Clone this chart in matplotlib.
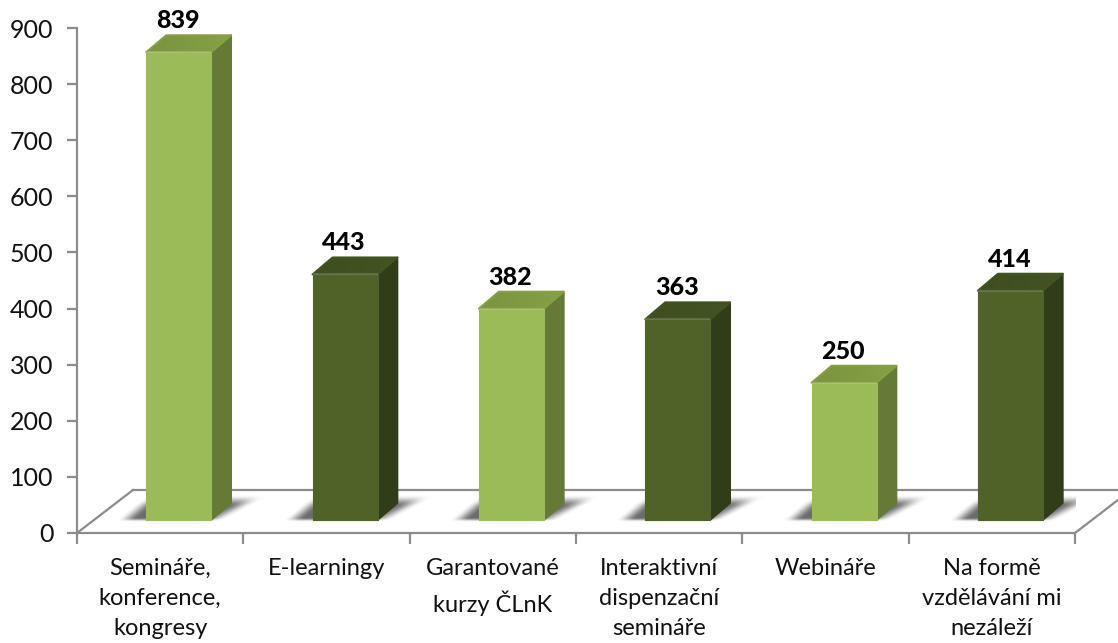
#!/usr/bin/env python3
"""3D-look column chart of preferred forms of education."""

import matplotlib
matplotlib.use("Agg")
import matplotlib.pyplot as plt
import numpy as np
from matplotlib.patches import Polygon

CATEGORIES = [
    "Semináře,\nkonference,\nkongresy",
    "E-learningy",
    "Garantované\nkurzy ČLnK",
    "Interaktivní\ndispenzační\nsemináře",
    "Webináře",
    "Na formě\nvzdělávání mi\nnezáleží",
]
VALUES = [839, 443, 382, 363, 250, 414]
Y_TICKS = [0, 100, 200, 300, 400, 500, 600, 700, 800, 900]

# front, side, top colours of the two alternating bar tones
LIGHT = ("#9BBB59", "#647A36", "#7A9440")
DARK = ("#4F6228", "#303D18", "#3E4E1F")
TONES = [LIGHT, DARK, LIGHT, DARK, LIGHT, DARK]

W, H = 1118, 643
AX_L, AX_R, AX_T, AX_B = 77, 1075, 28, 533
PX_X = len(CATEGORIES) / (AX_R - AX_L)
PX_Y = 900 / (AX_B - AX_T)

plt.rcParams["font.family"] = ["Lato", "DejaVu Sans"]

fig = plt.figure(figsize=(W / 100, H / 100), dpi=100, facecolor="white")
ax = fig.add_axes([AX_L / W, 1 - AX_B / H, (AX_R - AX_L) / W, (AX_B - AX_T) / H])
ax.set_xlim(0, len(CATEGORIES))
ax.set_ylim(0, 900)

# perspective offsets, in data units
DEPTH_X = 20 * PX_X
DEPTH_Y = 17 * PX_Y
FLOOR_DX = 56 * PX_X
FLOOR_DY = 43 * PX_Y
BASE_Y = 13 * PX_Y
SHIFT_X = 18.5 * PX_X
BAR_W = 65 * PX_X
GREY = "#8C8C8C"

# floor
n = len(CATEGORIES)
ax.plot([0, FLOOR_DX], [0, FLOOR_DY], color=GREY, lw=1.6, clip_on=False, zorder=1)
ax.plot([FLOOR_DX, n + FLOOR_DX], [FLOOR_DY, FLOOR_DY], color=GREY, lw=1.6, clip_on=False, zorder=1)
ax.plot([n, n + FLOOR_DX], [0, FLOOR_DY], color=GREY, lw=1.6, clip_on=False, zorder=1)


def smooth(v):
    v = np.clip(v, 0, 1)
    return v * v * (3 - 2 * v)


def shadow(x0):
    """Soft grey parallelogram lying on the floor around a bar foot."""
    x1 = x0 + BAR_W
    ny, nx = 60, 260
    xs = np.linspace(x0 - 45 * PX_X, x1 + 70 * PX_X, nx)
    ys = np.linspace(BASE_Y - 3 * PX_Y, BASE_Y + 30 * PX_Y, ny)
    xx, yy = np.meshgrid(xs, ys)
    t = (yy - BASE_Y) / (17 * PX_Y)
    left = x0 - 30 * PX_X + 20 * PX_X * t
    right = x1 + 14 * PX_X + 32 * PX_X * t
    alpha = smooth((xx - left) / (20 * PX_X)) * smooth((right - xx) / (24 * PX_X))
    alpha = alpha * smooth((t + 0.12) / 0.25) * smooth((1.5 - t) / 0.7)
    rgba = np.zeros((ny, nx, 4))
    rgba[..., :3] = 0.42
    rgba[..., 3] = alpha
    ax.imshow(rgba, extent=(xs[0], xs[-1], ys[0], ys[-1]), origin="lower",
              aspect="auto", zorder=2, interpolation="bilinear")


def gradient_face(verts, c0, c1, zorder):
    """Fill a polygon with a left-to-right gradient between two colours."""
    verts = np.array(verts)
    a, b = np.array(matplotlib.colors.to_rgb(c0)), np.array(matplotlib.colors.to_rgb(c1))
    t = np.linspace(0, 1, 64)[None, :, None]
    im = ax.imshow(a + (b - a) * t, aspect="auto", zorder=zorder,
                   extent=(verts[:, 0].min(), verts[:, 0].max(), verts[:, 1].min(), verts[:, 1].max()))
    patch = Polygon(verts, closed=True, transform=ax.transData, fc="none", ec="none")
    ax.add_patch(patch)
    im.set_clip_path(patch)
    ax.add_patch(Polygon(verts, closed=True, fc="none", ec=c1, lw=1.4, joinstyle="round", zorder=zorder))


for i, (val, tone) in enumerate(zip(VALUES, TONES)):
    x0 = i + 0.5 + SHIFT_X - BAR_W / 2
    x1 = x0 + BAR_W
    top = val + BASE_Y - 3 * PX_Y
    shadow(x0)
    ax.bar(x0, top - BASE_Y, width=BAR_W, bottom=BASE_Y, align="edge", color=tone[0],
           edgecolor=tone[0], linewidth=0.8, zorder=4)
    # lit edge on the front face
    ax.plot([x0, x1], [top, top], color="white", alpha=0.14, lw=1.6, zorder=5, solid_capstyle="butt")
    ax.fill([x1, x1 + DEPTH_X, x1 + DEPTH_X, x1],
            [BASE_Y, BASE_Y + DEPTH_Y, top + DEPTH_Y, top],
            color=tone[1], lw=1.2, joinstyle="round", zorder=3)
    gradient_face([(x0, top), (x0 + DEPTH_X, top + DEPTH_Y), (x1 + DEPTH_X, top + DEPTH_Y), (x1, top)],
                  tone[2], "#86A044" if tone is LIGHT else "#435423", 3)
    ax.text(i + 0.5 + 17.5 * PX_X, top + DEPTH_Y + 3 * PX_Y, str(val), ha="center", va="bottom",
            fontsize=18, fontweight="black", color="black", clip_on=False, zorder=6)

ax.set_xlim(0, n)
ax.set_ylim(0, 900)

for side in ("top", "right"):
    ax.spines[side].set_visible(False)
for side in ("left", "bottom"):
    ax.spines[side].set_color(GREY)
    ax.spines[side].set_linewidth(1.6)
    ax.spines[side].set_zorder(1)

ax.set_yticks(Y_TICKS)
ax.tick_params(axis="y", length=7, width=1.6, color=GREY, labelsize=18, labelcolor="#111111", pad=10)
ax.set_xticks(np.arange(n + 1))
ax.set_xticklabels([])
ax.set_xticks(np.arange(n) + 0.5, minor=True)
ax.set_xticklabels(CATEGORIES, minor=True, fontsize=17, color="#111111", linespacing=1.52)
ax.tick_params(axis="x", which="major", length=8, width=1.6, color=GREY)
ax.tick_params(axis="x", which="minor", length=0, pad=18)
ax.patch.set_visible(False)

fig.savefig("out.png", dpi=100)
